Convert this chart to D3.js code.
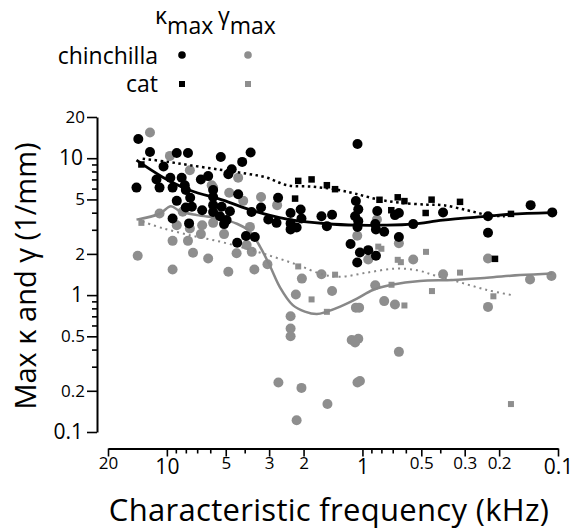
<!DOCTYPE html>
<meta charset="utf-8">
<style>
  body { margin: 0; background: #fff; }
  text { font-family: "Open Sans", sans-serif; fill: #000; }
</style>
<svg width="573" height="531"></svg>
<script src="https://d3js.org/d3.v7.min.js"></script>
<script>

// characteristic frequency (kHz), max value (1/mm)
var chinKappa = [[14.0,13.8],[12.2,11.1],[8.9,10.9],[7.8,10.9],[5.3,10.2],[3.73,11.0],[4.12,9.4],[10.4,8.7],
  [4.66,8.3],[4.85,7.65],[11.3,7.0],[9.6,7.2],[8.4,7.2],[6.7,7.0],[6.15,7.4],[14.3,6.1],[10.9,6.1],[9.35,6.1],
  [8.1,6.35],[8.0,5.85],[5.8,5.85],[4.32,5.45],[2.7,5.15],[8.9,4.88],[7.6,5.15],[5.8,5.2],[8.0,4.37],[7.45,4.42],
  [6.6,4.17],[5.8,4.54],[5.25,4.42],[4.76,4.1],[3.69,4.05],[3.3,4.37],[9.35,3.63],[7.7,3.34],[5.8,4.05],[5.35,3.77],
  [4.95,3.53],[5.1,3.3],[3.03,3.57],[2.75,3.37],[2.33,3.98],[2.07,4.22],[2.33,3.34],[2.33,3.02],[2.17,3.12],
  [2.05,3.63],[1.62,3.77],[1.52,3.19],[3.94,2.7],[3.55,2.66],[4.37,2.41],[1.43,3.86],[1.06,12.7],[1.08,4.87],
  [1.05,4.23],[1.09,3.77],[1.05,3.47],[1.06,3.15],[0.86,3.30],[0.853,3.02],[0.774,2.9],[0.84,4.11],[0.682,3.84],
  [0.651,3.98],[0.55,3.30],[0.387,4.01],[0.651,2.66],[1.15,2.36],[1.03,2.05],[0.934,2.13],[0.853,1.94],
  [1.063,1.73],[0.228,3.77],[0.228,2.85],[0.138,4.54],[0.107,4.02]];

var catKappa = [[13.5,9.0],[2.13,6.83],[1.82,7.0],[1.52,6.35],[1.38,5.94],[2.21,5.07],[0.818,4.97],[0.66,5.18],
  [0.61,4.86],[0.712,4.17],[0.443,4.98],[0.475,3.98],[0.317,4.8],[0.174,3.92],[0.21,1.84]];

var chinGamma = [[12.2,15.4],[9.65,10.4],[7.63,8.17],[4.32,7.2],[5.8,6.1],[5.9,6.35],[4.8,5.6],[4.07,4.88],[3.3,5.2],
  [2.73,4.54],[10.9,3.95],[8.3,4.06],[8.9,3.24],[6.6,3.24],[7.63,3.07],[5.8,3.37],[6.7,2.79],[5.1,2.79],[3.76,3.15],
  [9.35,2.49],[7.8,2.49],[14.1,1.94],[7.35,2.04],[6.15,1.85],[4.4,2.02],[3.68,2.07],[9.35,1.54],[4.85,1.48],
  [3.57,1.54],[3.06,1.68],[2.04,1.32],[1.62,1.42],[3.91,2.32],[2.19,1.01],[2.33,0.70],[2.33,0.57],[2.33,0.50],
  [2.69,0.23],[2.05,0.21],[2.17,0.122],[1.51,0.16],[1.063,2.71],[0.843,3.57],[0.651,2.39],[0.55,1.82],[0.934,1.82],
  [0.228,1.85],[0.387,1.42],[0.139,1.30],[0.108,1.38],[1.43,1.07],[0.86,1.18],[1.08,0.81],[1.04,0.81],[0.774,0.904],
  [0.682,0.855],[0.228,0.82],[1.135,0.47],[1.05,0.48],[1.09,0.45],[0.651,0.385],[1.03,0.236],[1.06,0.23]];

var catGamma = [[13.5,3.37],[2.13,1.62],[1.82,0.93],[1.52,0.755],[1.38,1.41],[0.83,2.26],[0.80,2.18],[0.473,2.07],
  [0.66,1.81],[0.636,1.74],[0.317,1.46],[0.71,1.19],[0.441,1.07],[0.61,0.84],[0.214,0.98],[0.174,0.16]];

// smoothed trends
var chinKappaFit = [[14.3,9.67],[10.5,7.27],[7.63,5.84],[5.17,4.94],[3.63,4.14],[2.43,3.59],[1.52,3.32],[1.067,3.24],
  [0.785,3.24],[0.552,3.30],[0.388,3.53],[0.228,3.77],[0.174,3.9],[0.107,4.0]];
var catKappaFit = [[13.3,9.92],[10.0,9.43],[7.63,8.89],[5.36,8.24],[3.90,7.71],[3.08,7.21],[2.43,6.35],[1.79,6.19],
  [1.35,5.89],[1.09,5.51],[0.843,5.02],[0.643,4.73],[0.468,4.58],[0.388,4.54],[0.292,4.17],[0.228,3.84],[0.187,3.77]];
var chinGammaFit = [[14.3,3.56],[10.9,3.93],[9.54,4.46],[8.58,4.10],[7.02,3.84],[5.36,3.62],[4.38,3.32],[3.76,2.91],
  [3.34,2.26],[2.97,1.63],[2.64,1.14],[2.27,0.845],[1.97,0.758],[1.71,0.727],[1.52,0.758],[1.30,0.824],[1.067,0.943],
  [0.884,1.09],[0.707,1.19],[0.508,1.27],[0.344,1.29],[0.231,1.34],[0.156,1.40],[0.107,1.44]];
var catGammaFit = [[13.3,3.44],[10.5,3.08],[7.63,2.74],[5.36,2.46],[3.90,2.18],[2.87,1.91],[2.14,1.66],[1.61,1.42],
  [1.30,1.36],[0.948,1.46],[0.682,1.56],[0.526,1.52],[0.426,1.39],[0.317,1.24],[0.231,1.09],[0.172,1.0]];

var xTicks = [20,10,9,8,7,6,5,4,3,2,1,0.9,0.8,0.7,0.6,0.5,0.4,0.3,0.2,0.1];
var xLabels = [20,10,5,3,2,1,0.5,0.3,0.2,0.1];
var yTicks = [20,10,9,8,7,6,5,4,3,2,1,0.9,0.8,0.7,0.6,0.5,0.4,0.3,0.2,0.1];
var yLabels = [20,10,5,2,1,0.5,0.2,0.1];
var decades = [10,1,0.1];
var species = ["chinchilla","cat"];

var svg = d3.select("svg");
var black = "#000", grey = "#8e8e8e";

var x = d3.scaleLog().domain([20, 0.1]).range([108, 558]);
var y = d3.scaleLog().domain([0.1, 20]).range([432, 117]);

// axes
var xAxis = svg.append("g")
    .attr("transform", "translate(0,448.5)")
    .call(d3.axisBottom(x).tickValues(xTicks).tickSize(8).tickSizeOuter(0)
      .tickFormat(function(d) { return xLabels.indexOf(d) >= 0 ? String(d) : ""; }));
xAxis.selectAll(".tick line").attr("y2", function(d) { return xLabels.indexOf(d) >= 0 ? 8 : 5; });
xAxis.selectAll(".tick text")
    .attr("dy", 0)
    .attr("y", function(d) { return decades.indexOf(d) >= 0 ? 25 : 20.5; })
    .style("font-size", function(d) { return decades.indexOf(d) >= 0 ? "21px" : "17px"; });

var yAxis = svg.append("g")
    .attr("transform", "translate(97,0)")
    .call(d3.axisLeft(y).tickValues(yTicks).tickSize(10).tickSizeOuter(0)
      .tickFormat(function(d) { return yLabels.indexOf(d) >= 0 ? String(d) : ""; }));
yAxis.selectAll(".tick line").attr("x2", function(d) { return yLabels.indexOf(d) >= 0 ? -10 : -5; });
yAxis.selectAll(".tick text")
    .attr("x", function(d) { return decades.indexOf(d) >= 0 ? -14 : -12; })
    .style("font-size", function(d) { return decades.indexOf(d) >= 0 ? "21px" : "17px"; });

svg.selectAll(".domain").attr("stroke-width", 2);
svg.selectAll(".tick line").attr("stroke-width", 1.6);

// points
function circles(data, color) {
  svg.append("g").selectAll("circle").data(data).enter().append("circle")
    .attr("cx", function(d) { return x(d[0]); })
    .attr("cy", function(d) { return y(d[1]); })
    .attr("r", 5)
    .attr("fill", color);
}
function squares(data, color, s) {
  svg.append("g").selectAll("rect").data(data).enter().append("rect")
    .attr("x", function(d) { return x(d[0]) - s / 2; })
    .attr("y", function(d) { return y(d[1]) - s / 2; })
    .attr("width", s).attr("height", s)
    .attr("fill", color);
}
var line = d3.line()
    .x(function(d) { return x(d[0]); })
    .y(function(d) { return y(d[1]); })
    .curve(d3.curveCatmullRom.alpha(0.5));
function trend(data, color, width, dash) {
  svg.append("path").datum(data)
    .attr("d", line)
    .attr("fill", "none")
    .attr("stroke", color)
    .attr("stroke-width", width)
    .attr("stroke-dasharray", dash);
}

circles(chinGamma, grey);
squares(catGamma, grey, 6);
trend(chinGammaFit, "#888", 2.5, null);
trend(catGammaFit, "#888", 2, "2,4");
circles(chinKappa, black);
squares(catKappa, black, 6.5);
trend(chinKappaFit, black, 2.8, null);
trend(catKappaFit, black, 2.5, "2.5,3.5");

// legend
var head = svg.append("g").style("font-size", "23px");
[["\u03ba", 155], ["\u03b3", 218]].forEach(function(h) {
  var t = head.append("text").attr("x", h[1]).attr("y", 24);
  t.append("tspan").text(h[0]);
  t.append("tspan").attr("dy", 10).text("max");
});
svg.selectAll(".sp").data(species).enter().append("text")
    .attr("class", "sp")
    .attr("x", 158)
    .attr("y", function(d, i) { return 64 + i * 28; })
    .attr("text-anchor", "end")
    .style("font-size", "23px")
    .text(function(d) { return d; });
svg.append("circle").attr("cx", 182).attr("cy", 55).attr("r", 3.8).attr("fill", black);
svg.append("circle").attr("cx", 248).attr("cy", 55).attr("r", 3.8).attr("fill", grey);
svg.append("rect").attr("x", 179).attr("y", 81).attr("width", 6).attr("height", 6).attr("fill", black);
svg.append("rect").attr("x", 245).attr("y", 81).attr("width", 6).attr("height", 6).attr("fill", grey);

// titles
svg.append("text")
    .attr("x", 329).attr("y", 521)
    .attr("text-anchor", "middle")
    .style("font-size", "31px")
    .style("letter-spacing", "0.3px")
    .text("Characteristic frequency (kHz)");
svg.append("text")
    .attr("transform", "translate(36,276) rotate(-90)")
    .attr("text-anchor", "middle")
    .style("font-size", "29px")
    .text("Max \u03ba and \u03b3 (1/mm)");

</script>
